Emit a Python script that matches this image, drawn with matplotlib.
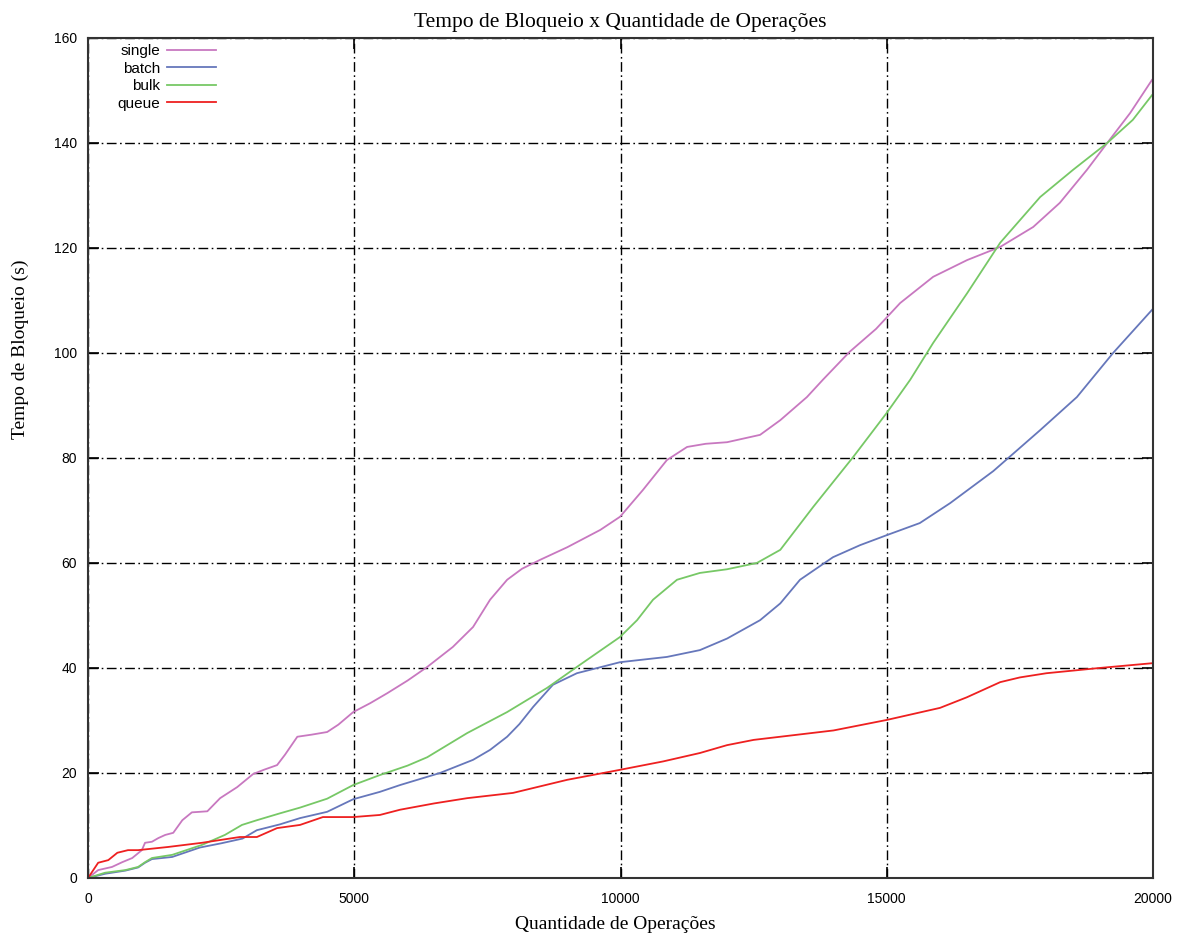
import matplotlib.pyplot as plt

# Quantidade de operacoes (eixo x) e tempo de bloqueio (s) por estrategia
single_x = [0, 190, 450, 640, 830, 1010, 1070, 1200, 1320, 1450, 1600, 1770, 1950, 2100, 2240, 2480,
            2800, 3100, 3300, 3550, 3700, 3930, 4200, 4490, 4700, 4980, 5300, 5620, 6000, 6370, 6850,
            7230, 7550, 7870, 8150, 8490, 9000, 9620, 9990, 10420, 10870, 11250, 11600, 12000, 12620,
            13000, 13500, 13800, 14300, 14800, 15250, 15870, 16510, 17130, 17750, 18250, 18760, 19140,
            19570, 19980]
single_y = [0, 1.5, 2.1, 3.0, 3.8, 5.3, 6.7, 6.9, 7.6, 8.2, 8.6, 11.0, 12.5, 12.6, 12.7, 15.2,
            17.3, 19.8, 20.6, 21.5, 23.5, 26.9, 27.3, 27.8, 29.2, 31.6, 33.3, 35.2, 37.6, 40.2, 44.0,
            47.8, 53.0, 56.8, 58.9, 60.6, 63.0, 66.3, 68.8, 73.9, 79.6, 82.1, 82.7, 83.0, 84.4,
            87.2, 91.6, 94.9, 100.2, 104.6, 109.5, 114.5, 117.7, 120.2, 124.0, 128.6, 134.9, 140.0,
            145.7, 152.0]

batch_x = [0, 320, 700, 940, 1070, 1200, 1580, 2100, 2500, 2900, 3170, 3600, 3980, 4490, 4980,
           5480, 5860, 6610, 7230, 7550, 7870, 8100, 8360, 8730, 9180, 9990, 10870, 11490, 12000,
           12620, 13000, 13370, 13990, 14500, 15000, 15620, 16190, 17000, 17880, 18570, 19250, 19980]
batch_y = [0, 0.8, 1.4, 2.0, 2.9, 3.6, 4.0, 5.8, 6.6, 7.5, 9.1, 10.2, 11.4, 12.6, 15.0,
           16.4, 17.7, 20.0, 22.5, 24.4, 26.9, 29.3, 32.6, 36.8, 39.0, 41.1, 42.1, 43.4, 45.6,
           49.1, 52.3, 56.8, 61.1, 63.4, 65.3, 67.6, 71.4, 77.5, 85.3, 91.6, 100.0, 108.2]

bulk_x = [0, 320, 700, 940, 1070, 1200, 1580, 2140, 2570, 2890, 3170, 3600, 3980, 4490, 4980,
          5480, 6000, 6370, 7120, 7870, 8620, 9180, 9990, 10310, 10610, 11060, 11490, 12000, 12560,
          13000, 13620, 14370, 15000, 15440, 15870, 16510, 17130, 17880, 18500, 19140, 19620, 19980]
bulk_y = [0, 1.0, 1.5, 2.1, 3.0, 3.8, 4.4, 6.3, 8.2, 10.1, 11.0, 12.3, 13.4, 15.1, 17.7,
          19.6, 21.4, 23.0, 27.6, 31.6, 36.2, 40.2, 45.9, 49.1, 53.0, 56.8, 58.1, 58.8, 60.0,
          62.5, 70.7, 80.2, 88.6, 94.9, 101.9, 111.4, 121.0, 129.7, 134.9, 140.0, 144.4, 149.1]

queue_x = [0, 190, 380, 550, 750, 940, 1500, 2140, 2850, 3170, 3550, 3980, 4410, 4980, 5480,
           5860, 6500, 7120, 7980, 9000, 9990, 10800, 11490, 12000, 12500, 13000, 14000, 15000,
           16000, 16500, 17130, 17500, 18000, 19000, 19980]
queue_y = [0, 2.9, 3.4, 4.8, 5.3, 5.3, 5.9, 6.7, 7.8, 7.8, 9.5, 10.1, 11.6, 11.6, 12.0,
           13.0, 14.2, 15.2, 16.2, 18.7, 20.6, 22.2, 23.8, 25.3, 26.3, 26.9, 28.1, 30.1,
           32.4, 34.4, 37.3, 38.2, 39.0, 40.0, 40.9]

fig = plt.figure(figsize=(11.82, 9.35), dpi=100)
ax = fig.add_axes([0.0745, 0.061, 0.901, 0.8984])

ax.plot(single_x, single_y, color="#c878c0", lw=1.3, label="single")
ax.plot(batch_x, batch_y, color="#6677bb", lw=1.3, label="batch")
ax.plot(bulk_x, bulk_y, color="#77c866", lw=1.3, label="bulk")
ax.plot(queue_x, queue_y, color="#ee2020", lw=1.3, label="queue")

ax.set_xlim(0, 20000)
ax.set_ylim(0, 160)
ax.set_xticks(range(0, 20001, 5000))
ax.set_yticks(range(0, 161, 20))
ax.grid(True, color="black", linestyle=(0, (7, 2.5, 1.2, 2.5)), linewidth=1.0)
ax.tick_params(direction="in", length=8, width=1.2, top=True, right=True,
               labelsize=10, pad=10)
ax.tick_params(axis="y", pad=8)
for lbl in ax.get_xticklabels() + ax.get_yticklabels():
    lbl.set_fontfamily("Liberation Sans")
for s in ax.spines.values():
    s.set_linewidth(1.5)
    s.set_color("#333333")

ax.set_title("Tempo de Bloqueio x Quantidade de Operações", fontfamily="Liberation Serif",
             fontsize=15.5, pad=8)
ax.set_xlabel("Quantidade de Operações", fontfamily="Liberation Serif", fontsize=14, labelpad=9)
ax.xaxis.set_label_coords(0.495, -0.045)
ax.set_ylabel("Tempo de Bloqueio (s)", fontfamily="Liberation Serif", fontsize=14)
ax.yaxis.set_label_coords(-0.055, 0.629)

leg = ax.legend(loc="upper left", frameon=False, markerfirst=False, handlelength=3.2,
                prop={"family": "Liberation Sans", "size": 11}, labelspacing=0.22,
                bbox_to_anchor=(0.0175, 1.005), handletextpad=0.45, borderpad=0.2)
for t in leg.get_texts():
    t.set_ha("right")
leg._legend_box.align = "right"

fig.savefig("out.png", dpi=100)
